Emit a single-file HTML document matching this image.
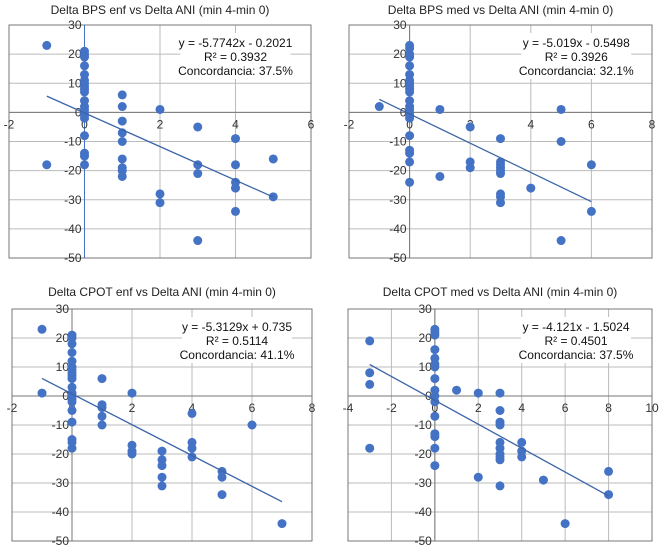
<!DOCTYPE html>
<html><head><meta charset="utf-8"><style>
body{margin:0;background:#fff;}
svg{display:block;font-family:"Liberation Sans",Arial,sans-serif;}
</style></head><body>
<svg id="c" width="660" height="555"></svg>
<script>
const titles=["Delta BPS enf vs Delta ANI (min 4-min 0)","Delta BPS med vs Delta ANI (min 4-min 0)","Delta CPOT enf vs Delta ANI (min 4-min 0)","Delta CPOT med vs Delta ANI (min 4-min 0)"];
const eqs=[["y = -5.7742x - 0.2021","R² = 0.3932","Concordancia: 37.5%"],["y = -5.019x - 0.5498","R² = 0.3926","Concordancia: 32.1%"],["y = -5.3129x + 0.735","R² = 0.5114","Concordancia: 41.1%"],["y = -4.121x - 1.5024","R² = 0.4501","Concordancia: 37.5%"]];
const slopes=[-5.7742,-5.019,-5.3129,-4.121];
const intercepts=[-0.2021,-0.5498,0.735,-1.5024];
const xRanges=[[-2,6],[-2,8],[-2,8],[-4,10]];
const yTicks=[30,20,10,0,-10,-20,-30,-40,-50];
const p1x=[-1,-1,0,0,0,0,0,0,0,0,0,0,0,0,0,0,0,0,0,0,0,0,1,1,1,1,1,1,1,1,1,2,2,2,3,3,3,3,4,4,4,4,4,5,5];
const p1y=[23,-18,21,20,19,16,13,11,10,9,8,7,4,2,1,0,-1,-2,-8,-14,-15,-18,6,2,-3,-7,-10,-16,-19,-20,-22,1,-28,-31,-5,-18,-21,-44,-9,-18,-24,-26,-34,-16,-29];
const p2x=[-1,0,0,0,0,0,0,0,0,0,0,0,0,0,0,0,0,0,0,0,0,0,0,1,1,2,2,2,3,3,3,3,3,3,3,3,3,4,5,5,5,6,6];
const p2y=[2,23,22,20,19,16,13,11,10,9,8,7,4,2,1,0,-1,-2,-8,-13,-14,-17,-24,1,-22,-5,-17,-19,-9,-17,-18,-19,-20,-21,-28,-29,-31,-26,1,-10,-44,-18,-34];
const p3x=[-1,-1,0,0,0,0,0,0,0,0,0,0,0,0,0,0,0,0,0,0,0,0,1,1,1,1,1,2,2,2,2,3,3,3,3,3,4,4,4,4,5,5,5,6,7];
const p3y=[23,1,21,20,18,15,12,10,9,8,7,6,3,1,0,-1,-2,-5,-9,-15,-16,-18,6,-3,-4,-7,-10,1,-17,-19,-20,-19,-22,-24,-28,-31,-6,-16,-18,-21,-26,-28,-34,-10,-44];
const p4x=[-3,-3,-3,-3,0,0,0,0,0,0,0,0,0,0,0,0,0,0,0,0,1,2,2,3,3,3,3,3,3,3,3,3,3,4,4,4,5,6,8,8];
const p4y=[19,8,4,-18,23,22,21,16,13,11,10,6,2,0,-2,-7,-13,-14,-18,-24,2,1,-28,1,-5,-9,-10,-16,-18,-20,-21,-22,-31,-16,-19,-21,-29,-44,-26,-34];
const X=[p1x,p2x,p3x,p4x], Y=[p1y,p2y,p3y,p4y];
const boxes=[[9,311,25,258,10],[349,652,25,258,10],[12,312,309,541,292],[348,652,309,541,292]];
const NS="http://www.w3.org/2000/svg";
const svg=document.getElementById('c');
function mk(t,a,p){const e=document.createElementNS(NS,t);for(const k in a)e.setAttribute(k,a[k]);(p||svg).appendChild(e);return e;}
for(let i=0;i<4;i++){
  const [L,R,T,B,ty]=boxes[i];const [x0,x1]=xRanges[i];
  const sx=v=>L+(v-x0)/(x1-x0)*(R-L);
  const sy=v=>T+(30-v)/80*(B-T);
  const g=mk('g',{});
  
  
  const t=mk('text',{x:(L+R)/2,y:ty+4,'text-anchor':'middle','font-size':12,fill:'#222'},g);t.textContent=titles[i];
  
  
  for(const v of yTicks){const l=mk('line',{x1:L,x2:R,y1:sy(v),y2:sy(v),stroke:'#bbb','stroke-width':1},g);
    }
  for(let v=x0;v<=x1;v+=2){const l=mk('line',{x1:sx(v),x2:sx(v),y1:T,y2:B,stroke:'#bbb','stroke-width':1},g);
    }
  mk('rect',{x:L,y:T,width:R-L,height:B-T,fill:'none',stroke:'#777','stroke-width':1},g);
  mk('line',{x1:L,x2:R,y1:sy(0),y2:sy(0),stroke:'#777'},g);
  mk('line',{x1:sx(0),x2:sx(0),y1:T,y2:B,stroke:i==0?'#4472c4':'#777'},g);
  for(const v of yTicks){const tx=mk('text',{x:sx(0)-3,y:sy(v)+4,'text-anchor':'end','font-size':12,fill:'#333'},g);tx.textContent=v;
    }
  for(let v=x0;v<=x1;v+=2){const tx=mk('text',{x:sx(v),y:sy(0)+16,'text-anchor':'middle','font-size':12,fill:'#333'},g);tx.textContent=v;
    }
  const cx=(R-L)*0.75+L;
  mk('rect',{x:cx-55,y:T+8,width:110,height:46,fill:'#fff'},g);
  eqs[i].forEach((s,j)=>{const tx=mk('text',{x:cx,y:T+22+j*14,'text-anchor':'middle','font-size':12,fill:'#111'},g);tx.textContent=s;
    });
  for(let k=0;k<X[i].length;k++){const c=mk('circle',{cx:sx(X[i][k]),cy:sy(Y[i][k]),r:4.5,fill:'#4472c4'},g);
    }
  const xa=Math.min(...X[i]),xb=Math.max(...X[i]);
  const tl=mk('line',{x1:sx(xa),y1:sy(slopes[i]*xa+intercepts[i]),x2:sx(xb),y2:sy(slopes[i]*xb+intercepts[i]),stroke:'#3b64a8','stroke-width':1.3},g);
  
}
</script>
</body></html>
